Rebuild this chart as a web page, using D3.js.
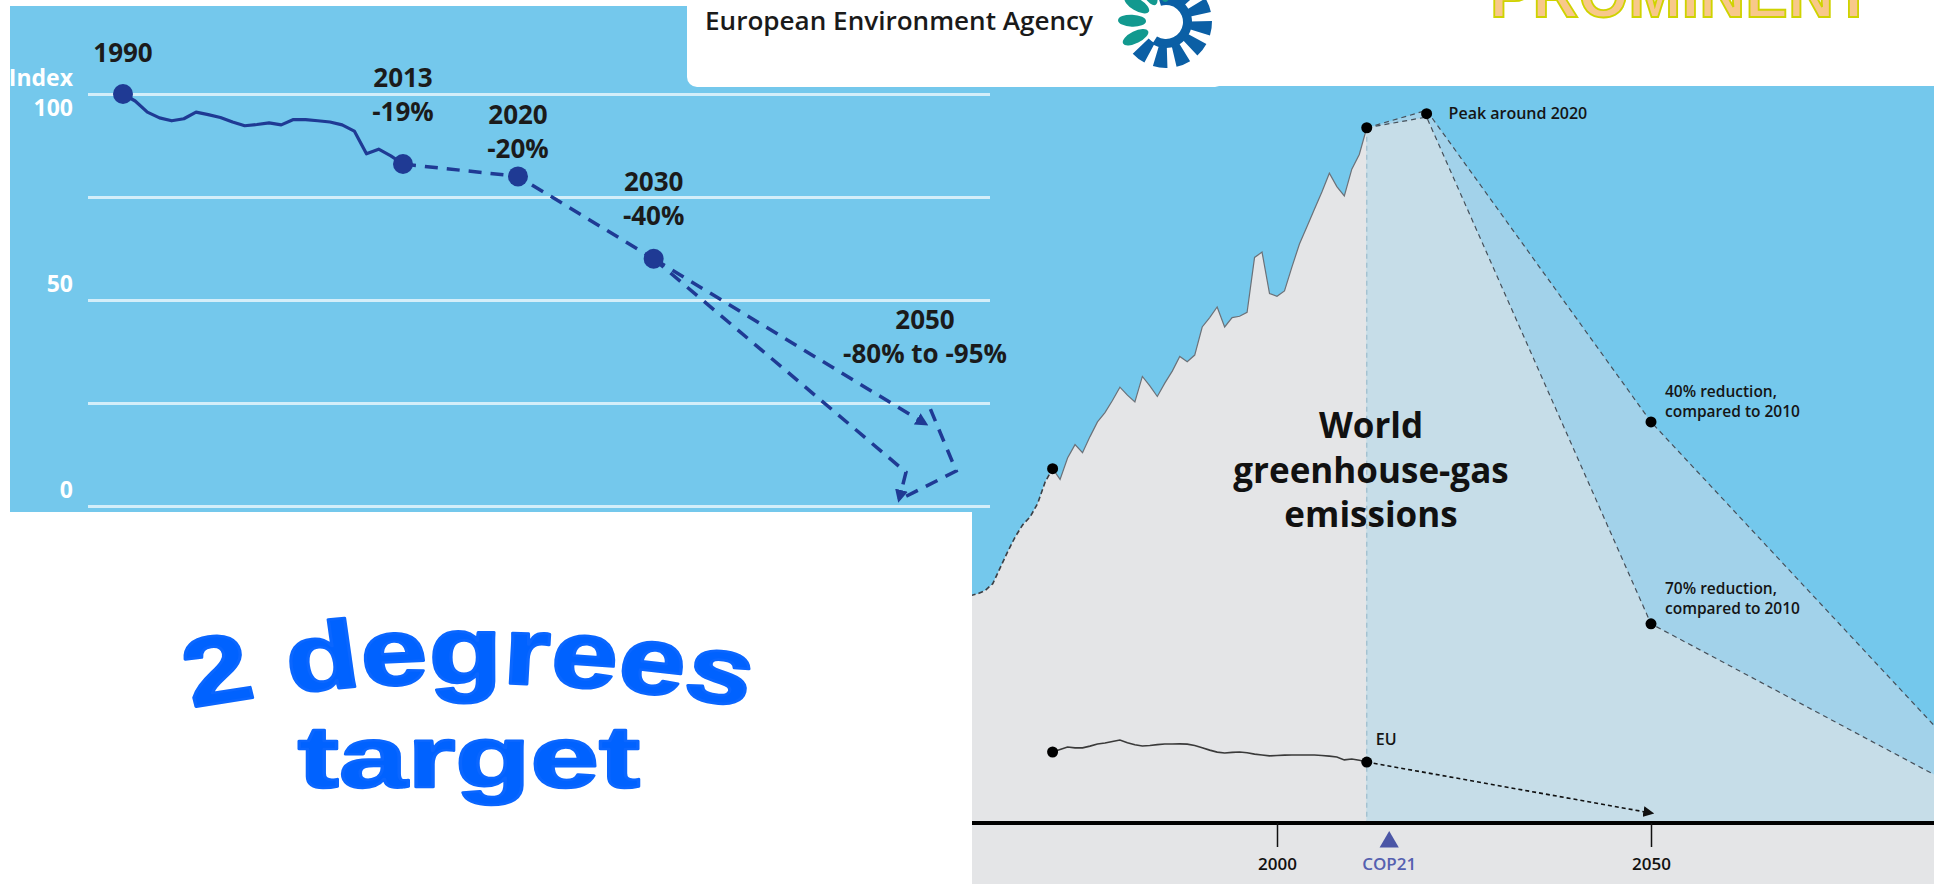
<!DOCTYPE html>
<html>
<head>
<meta charset="utf-8">
<script src="https://cdn.jsdelivr.net/npm/d3@7"></script>
<style>
  html, body { margin: 0; padding: 0; background: #fff; }
  svg { display: block; }
  text { font-family: "Open Sans", "DejaVu Sans", sans-serif; }
  text.art { font-family: "Liberation Sans", Arial, sans-serif; }
</style>
</head>
<body>
<div class="chart"></div>
<script>
const W = 1934, H = 884;

const SKY = '#74c8ec';
const GRID = '#d4eef9';
const NAVY = '#1f3a94';
const GREY = '#e4e5e7';
const LIGHT = '#c6dde8';
const FAN = '#a2d2ea';

// --- EEA panel: EU emissions index, 1990 = 100
const euYears = d3.range(1990, 2014);
const euIndex = [100, 98.3, 95.6, 94.2, 93.5, 94.0, 95.6, 95.0, 94.3, 93.2,
                 92.3, 92.6, 93.0, 92.5, 93.8, 93.8, 93.5, 93.2, 92.5, 91.0,
                 85.5, 86.6, 85.0, 83.0];
const targetYears = [1990, 2013, 2020, 2030, 2050];
const targetValues = [100, 83, 80, 60, 20];
const targetLabels = [['1990'], ['2013', '-19%'], ['2020', '-20%'], ['2030', '-40%'], ['2050', '-80% to -95%']];
const targetPath = [[2013, 83], [2020, 80], [2030, 60]];
const path80 = [[2030, 60], [2050, 20]];
const path95 = [[2030, 60], [2048.6, 8.2], [2048.1, 1.7]];
const bracket95 = [[2050.4, 23.5], [2052.3, 8.5], [2048.4, 2.0]];
const indexTicks = [0, 25, 50, 75, 100];
const indexLabels = [0, 50, 100];

// --- world panel: greenhouse-gas emissions, Gt CO2e
const worldYears = d3.range(1958, 2013);
const worldGhg = [16.9, 17.0, 17.15, 17.4, 17.9, 19.1, 20.3, 21.4, 22.3, 22.9, 23.9, 25.5,
                  26.5, 25.7, 27.3, 28.3, 27.7, 28.9, 30.0, 30.7, 31.6, 32.6,
                  32.0, 31.5, 33.4, 32.7, 31.9, 32.9, 33.8, 34.9, 34.5, 35.0,
                  37.1, 37.8, 38.6, 37.1, 37.8, 37.9, 38.2, 42.3, 42.7, 39.6,
                  39.4, 39.8, 41.6, 43.3, 44.6, 45.9, 47.2, 48.6, 47.6, 46.9,
                  48.9, 50.0, 52.0];
const euGhgYears = d3.range(1970, 2013);
const euGhg = [5.31, 5.5, 5.68, 5.62, 5.62, 5.75, 5.91, 5.98, 6.1, 6.21,
               6.0, 5.85, 5.76, 5.8, 5.86, 5.91, 5.91, 5.92, 5.9, 5.8,
               5.62, 5.45, 5.3, 5.24, 5.28, 5.31, 5.25, 5.15, 5.08, 5.02,
               5.05, 5.08, 5.09, 5.09, 5.09, 5.09, 5.05, 5.0, 4.94, 4.72,
               4.79, 4.7, 4.56];
const path40 = [[2012, 52.0], [2020, 53.3], [2050, 30.0], [2100, 0]];
const path70 = [[2012, 52.0], [2020, 52.8], [2050, 14.9], [2100, 0]];
const euPath = [[2012, 4.56], [2050, 0.75]];
const peak = [2020, 53.05];
const reduction40 = [2050, 30.0];
const reduction70 = [2050, 14.9];
const yearTicks = [2000, 2050];
const cop21Year = 2015;

const svg = d3.select('.chart').append('svg')
    .attr('width', W)
    .attr('height', H);

const defs = svg.append('defs');
defs.append('clipPath').attr('id', 'left-clip')
  .append('rect').attr('x', 10).attr('y', 6).attr('width', 980).attr('height', 506);
defs.append('clipPath').attr('id', 'right-clip')
  .append('rect').attr('x', 972).attr('y', 86).attr('width', W - 972).attr('height', H - 86);

function arrow(id, color, size) {
  defs.append('marker')
      .attr('id', id)
      .attr('viewBox', '0 0 10 10')
      .attr('refX', 7).attr('refY', 5)
      .attr('markerUnits', 'userSpaceOnUse')
      .attr('markerWidth', size).attr('markerHeight', size)
      .attr('orient', 'auto')
    .append('path')
      .attr('d', 'M0,0 L10,5 L0,10 z')
      .attr('fill', color);
}
arrow('arrow-navy', NAVY, 13);
arrow('arrow-black', '#111', 11);

// right panel backdrop goes first, the EEA panel sits on it
svg.append('rect')
    .attr('x', 972).attr('y', 86)
    .attr('width', W - 972).attr('height', H - 86)
    .attr('fill', SKY);

/*
 * EEA index chart
 */
const xL = d3.scaleLinear()
  .domain([1990, 2013, 2020, 2050])
  .range([123, 403, 518, 925]);
const yL = d3.scaleLinear()
  .domain([0, 100])
  .range([506, 94]);

const left = svg.append('g').attr('clip-path', 'url(#left-clip)');
left.append('rect')
    .attr('x', 10).attr('y', 6)
    .attr('width', 980).attr('height', 506)
    .attr('fill', SKY);

const gGrid = left.append('g')
    .attr('transform', 'translate(88,0)')
    .call(d3.axisLeft(yL)
      .tickValues(indexTicks)
      .tickSize(-902)
      .tickPadding(15)
      .tickFormat(d => indexLabels.includes(d) ? d : ''));
gGrid.select('.domain').remove();
gGrid.selectAll('line').attr('stroke', GRID).attr('stroke-width', 3);
gGrid.selectAll('text')
    .attr('fill', '#fff')
    .attr('font-size', 23)
    .attr('font-weight', 700)
    .attr('dy', d => d === 100 ? '0.92em' : '-0.35em');
left.append('text')
    .attr('x', 73).attr('y', yL(100) - 8)
    .attr('text-anchor', 'end')
    .attr('fill', '#fff')
    .attr('font-size', 23)
    .attr('font-weight', 700)
    .text('Index');

const lineL = d3.line().x(d => xL(d[0])).y(d => yL(d[1]));

left.append('path')
    .datum(euYears.map((yr, i) => [yr, euIndex[i]]))
    .attr('d', lineL)
    .attr('fill', 'none')
    .attr('stroke', NAVY)
    .attr('stroke-width', 3.2)
    .attr('stroke-linejoin', 'round');

[targetPath, path80, path95, bracket95].forEach((p, i) => {
  left.append('path')
      .datum(p)
      .attr('d', lineL)
      .attr('fill', 'none')
      .attr('stroke', NAVY)
      .attr('stroke-width', 3.5)
      .attr('stroke-dasharray', '13,9')
      .attr('marker-end', (i === 1 || i === 2) ? 'url(#arrow-navy)' : null);
});

left.selectAll('.target-dot')
  .data(targetYears.slice(0, 4))
  .join('circle')
    .attr('class', 'target-dot')
    .attr('cx', d => xL(d))
    .attr('cy', (d, i) => yL(targetValues[i]))
    .attr('r', 10)
    .attr('fill', NAVY);

/*
 * World greenhouse-gas chart
 */
const xR = d3.scaleLinear()
  .domain([2000, 2050])
  .range([1277, 1651]);
const yR = d3.scaleLinear()
  .domain([0, 60])
  .range([823, 823 - 60 * 13.37]);

const right = svg.append('g').attr('clip-path', 'url(#right-clip)');
const areaR = d3.area().x(d => xR(d[0])).y0(yR(0)).y1(d => yR(d[1]));
const lineR = d3.line().x(d => xR(d[0])).y(d => yR(d[1]));
const world = worldYears.map((yr, i) => [yr, worldGhg[i]]);
const eu = euGhgYears.map((yr, i) => [yr, euGhg[i]]);

right.append('path').attr('d', areaR(path40)).attr('fill', FAN);
right.append('path').attr('d', areaR(path70)).attr('fill', LIGHT);
right.append('path').attr('d', areaR(world)).attr('fill', GREY);
right.append('rect')
    .attr('x', 972).attr('y', yR(0))
    .attr('width', W - 972).attr('height', H - yR(0))
    .attr('fill', GREY);

right.append('line')
    .attr('x1', xR(2012)).attr('x2', xR(2012))
    .attr('y1', yR(52)).attr('y2', yR(0))
    .attr('stroke', '#9cbccd')
    .attr('stroke-width', 1.2)
    .attr('stroke-dasharray', '5,4');

right.append('path')
    .datum(world.filter(d => d[0] >= 1970))
    .attr('d', lineR)
    .attr('fill', 'none')
    .attr('stroke', '#6b7178')
    .attr('stroke-width', 1.2);
right.append('path')
    .datum(world.filter(d => d[0] <= 1970))
    .attr('d', lineR)
    .attr('fill', 'none')
    .attr('stroke', '#3b3f45')
    .attr('stroke-width', 1.6)
    .attr('stroke-dasharray', '5,3');

[path40, path70].forEach(p => {
  right.append('path')
      .datum(p)
      .attr('d', lineR)
      .attr('fill', 'none')
      .attr('stroke', '#46505a')
      .attr('stroke-width', 1.2)
      .attr('stroke-dasharray', '5,4');
});

right.append('path')
    .datum(eu)
    .attr('d', lineR)
    .attr('fill', 'none')
    .attr('stroke', '#3a3a3a')
    .attr('stroke-width', 1.6);
right.append('path')
    .datum(euPath)
    .attr('d', lineR)
    .attr('fill', 'none')
    .attr('stroke', '#111')
    .attr('stroke-width', 1.6)
    .attr('stroke-dasharray', '4,3')
    .attr('marker-end', 'url(#arrow-black)');

const dots = [world.find(d => d[0] === 1970), world[world.length - 1], peak,
              reduction40, reduction70, eu[0], eu[eu.length - 1]];
right.selectAll('.dot')
  .data(dots)
  .join('circle')
    .attr('class', 'dot')
    .attr('cx', d => xR(d[0]))
    .attr('cy', d => yR(d[1]))
    .attr('r', 5.5)
    .attr('fill', '#000');

// axis
right.append('line')
    .attr('x1', 972).attr('x2', W)
    .attr('y1', yR(0)).attr('y2', yR(0))
    .attr('stroke', '#000')
    .attr('stroke-width', 4);
const gX = right.append('g')
    .attr('transform', `translate(0, ${yR(0)})`)
    .call(d3.axisBottom(xR)
      .tickValues(yearTicks)
      .tickSize(24)
      .tickPadding(11)
      .tickFormat(d3.format('d')));
gX.select('.domain').remove();
gX.selectAll('line').attr('stroke', '#111').attr('stroke-width', 1.5);
gX.selectAll('text')
    .attr('fill', '#111')
    .attr('font-size', 17)
    .attr('font-weight', 600);

right.append('path')
    .attr('d', d3.symbol(d3.symbolTriangle, 160)())
    .attr('transform', `translate(${xR(cop21Year)}, ${yR(0) + 19})`)
    .attr('fill', '#4b56a6');
right.append('text')
    .attr('x', xR(cop21Year)).attr('y', yR(0) + 47)
    .attr('text-anchor', 'middle')
    .attr('fill', '#5560b0')
    .attr('font-size', 17)
    .attr('font-weight', 600)
    .text('COP21');

function note(x, y, lines, size) {
  const t = right.append('text')
      .attr('font-size', size)
      .attr('font-weight', 600)
      .attr('fill', '#151515');
  lines.forEach((s, j) => {
    t.append('tspan').attr('x', x).attr('y', y + j * 20).text(s);
  });
}
note(xR(peak[0]) + 22, yR(peak[1]) + 5, ['Peak around 2020'], 16);
note(xR(reduction40[0]) + 14, yR(reduction40[1]) - 25, ['40% reduction,', 'compared to 2010'], 15.5);
note(xR(reduction70[0]) + 14, yR(reduction70[1]) - 30, ['70% reduction,', 'compared to 2010'], 15.5);
note(xR(2012) + 9, yR(eu[eu.length - 1][1]) - 17, ['EU'], 16);

const title = right.append('text')
    .attr('text-anchor', 'middle')
    .attr('font-size', 35)
    .attr('font-weight', 700)
    .attr('fill', '#111');
['World', 'greenhouse-gas', 'emissions'].forEach((s, j) => {
  title.append('tspan').attr('x', 1371).attr('y', 438 + j * 44.5).text(s);
});

// milestone labels of the EEA chart spill over the panel edge, so no clip
const labelLift = [32, 77, 52, 68, 95];
targetYears.forEach((yr, i) => {
  const t = svg.append('text')
      .attr('text-anchor', 'middle')
      .attr('font-size', 26)
      .attr('font-weight', 700)
      .attr('fill', '#1b1b1b');
  targetLabels[i].forEach((s, j) => {
    t.append('tspan')
        .attr('x', xL(yr))
        .attr('y', yL(targetValues[i]) - labelLift[i] + j * 34)
        .text(s);
  });
});

/*
 * Overlays: EEA banner, title art
 */
svg.append('rect')
    .attr('x', 687).attr('y', -12)
    .attr('width', 538).attr('height', 99)
    .attr('rx', 10)
    .attr('fill', '#fff');
svg.append('text')
    .attr('x', 705).attr('y', 30)
    .attr('font-size', 25)
    .attr('font-weight', 600)
    .attr('fill', '#1a1a1a')
    .attr('textLength', 388)
    .attr('lengthAdjust', 'spacingAndGlyphs')
    .text('European Environment Agency');

const logo = svg.append('g').attr('transform', 'translate(1166,22)');
logo.append('path')
    .attr('d', d3.arc()({innerRadius: 17, outerRadius: 26, startAngle: -0.3, endAngle: 3.7}))
    .attr('fill', '#0b5fa5');
d3.range(0.15, 3.9, 0.52).forEach(a => {
  logo.append('path')
      .attr('d', d3.arc()({innerRadius: 24, outerRadius: 46, startAngle: a - 0.16, endAngle: a + 0.16}))
      .attr('fill', '#0b5fa5');
});
d3.range(4.25, 6.3, 0.5).forEach(a => {
  logo.append('ellipse')
      .attr('transform', `rotate(${a * 180 / Math.PI}) translate(0,-34)`)
      .attr('rx', 6).attr('ry', 14)
      .attr('fill', '#12998f');
});

svg.append('text')
    .attr('class', 'art')
    .attr('x', 1490).attr('y', 17)
    .attr('font-size', 64)
    .attr('font-weight', 700)
    .attr('fill', '#f8c88a')
    .attr('stroke', '#cfd300')
    .attr('stroke-width', 1.8)
    .attr('textLength', 383)
    .attr('lengthAdjust', 'spacingAndGlyphs')
    .text('PROMINENT');

const art = svg.append('g')
    .attr('font-weight', 700)
    .attr('fill', '#0062ff')
    .attr('stroke', '#0a66ff')
    .attr('stroke-width', 2.5)
    .attr('stroke-linejoin', 'round');
const arch = art.append('g').attr('transform', 'translate(469,683) scale(1.3,1.04)');
arch.append('path')
    .attr('id', 'arch-path')
    .attr('d', 'M-240,30 Q0,-30 240,30')
    .attr('fill', 'none')
    .attr('stroke', 'none');
arch.append('text')
    .attr('class', 'art')
    .attr('font-size', 92)
  .append('textPath')
    .attr('href', '#arch-path')
    .attr('startOffset', '50%')
    .attr('text-anchor', 'middle')
    .text('2 degrees');
art.append('g')
    .attr('transform', 'translate(469,787) scale(1.4,1)')
  .append('text')
    .attr('class', 'art')
    .attr('text-anchor', 'middle')
    .attr('font-size', 88)
    .text('target');
</script>
</body>
</html>
